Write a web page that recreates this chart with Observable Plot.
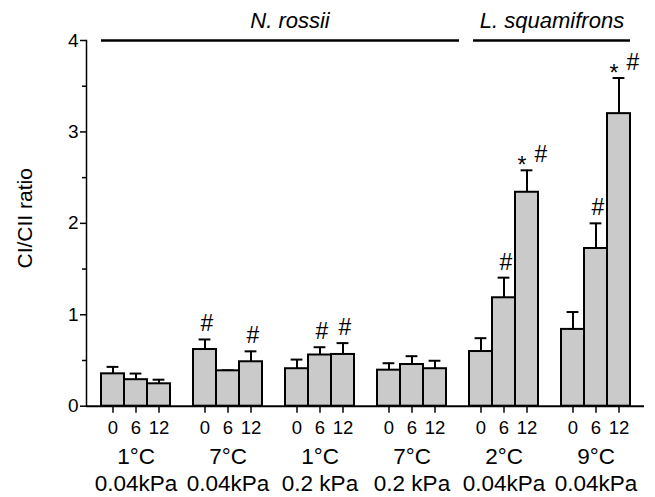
<!DOCTYPE html>
<html>
<head>
<meta charset="utf-8">
<script src="https://cdn.jsdelivr.net/npm/d3@7"></script>
<script src="https://cdn.jsdelivr.net/npm/@observablehq/plot@0.6"></script>
<style>
  html, body { margin: 0; padding: 0; background: #fff; }
  svg { display: block; }
</style>
</head>
<body>
<div id="chart"></div>
<script>
// ---- data ----
const groupTemps = ["1°C", "7°C", "1°C", "7°C", "2°C", "9°C"];
const groupPressures = ["0.04kPa", "0.04kPa", "0.2 kPa", "0.2 kPa", "0.04kPa", "0.04kPa"];
const doses = ["0", "6", "12"];
const means = [
  [0.354, 0.29, 0.245],
  [0.62, 0.387, 0.486],
  [0.41, 0.56, 0.566],
  [0.394, 0.456, 0.41],
  [0.598, 1.186, 2.34],
  [0.84, 1.725, 3.2]
];
const sems = [
  [0.076, 0.067, 0.045],
  [0.11, 0.005, 0.114],
  [0.10, 0.085, 0.124],
  [0.076, 0.091, 0.087],
  [0.146, 0.22, 0.24],
  [0.19, 0.275, 0.39]
];
const hashMarks = [[0,0,0],[1,0,1],[0,1,1],[0,0,0],[0,1,1],[0,1,1]];
const starMarks = [[0,0,0],[0,0,0],[0,0,0],[0,0,0],[0,0,1],[0,0,1]];
const species = ["N. rossii", "L. squamifrons"];
const yTicks = [0, 1, 2, 3, 4];
const yMinorTicks = [0.5, 1.5, 2.5, 3.5];

// ---- build tables ----
const keyOf = (g, d) => `${g}-${d}`;
const spacerOf = g => `s${g}`;
const domain = [];
groupTemps.forEach((_, g) => {
  doses.forEach((_, d) => domain.push(keyOf(g, d)));
  if (g < groupTemps.length - 1) domain.push(spacerOf(g));
});
const bars = [];
groupTemps.forEach((_, g) => doses.forEach((dose, d) => bars.push({
  key: keyOf(g, d), dose, mean: means[g][d], top: means[g][d] + sems[g][d],
  hash: hashMarks[g][d] === 1, star: starMarks[g][d] === 1
})));
const barKeys = bars.map(b => b.key);
const doseOf = Object.fromEntries(bars.map(b => [b.key, b.dose]));
const groupLabels = groupTemps.map((t, g) => ({key: keyOf(g, 1), temp: t, pressure: groupPressures[g]}));
const hashAlone = bars.filter(b => b.hash && !b.star);
const hashWithStar = bars.filter(b => b.hash && b.star);
const stars = bars.filter(b => b.star);
const font = "Liberation Sans, Arial, sans-serif";

const chart = Plot.plot({
  width: 655,
  height: 497,
  marginLeft: 86,
  marginRight: 11,
  marginTop: 40,
  marginBottom: 91.3,
  style: {fontFamily: font, color: "#000", background: "#fff", overflow: "visible"},
  x: {type: "band", domain, paddingInner: 0, paddingOuter: 0.5, label: null, axis: null},
  y: {domain: [0, 4], label: null, axis: null},
  marks: [
    // axes
    Plot.axisY({ticks: yTicks, tickSize: 6, tickPadding: 2, fontSize: 19, strokeWidth: 1.5, label: null, tickFormat: d3.format("d")}),
    Plot.axisY({ticks: yMinorTicks, tickSize: 4, strokeWidth: 1.5, label: null, tickFormat: () => ""}),
    Plot.frame({anchor: "left", strokeWidth: 1.5}),
    Plot.axisX({ticks: barKeys, tickFormat: k => doseOf[k], tickSize: 7, tickPadding: 8, fontSize: 18.5, strokeWidth: 1.5, label: null}),
    Plot.text(["CI/CII ratio"], {frameAnchor: "left", dx: -61, dy: -5, rotate: -90, fontSize: 21, textAnchor: "middle", lineAnchor: "middle"}),
    // error bars
    Plot.ruleX(bars, {x: "key", y1: "mean", y2: "top", strokeWidth: 2}),
    Plot.tickY(bars, {x: "key", y: "top", strokeWidth: 2, insetLeft: 5.6, insetRight: 5.6}),
    // bars
    Plot.barY(bars, {x: "key", y: "mean", fill: "#cacaca", stroke: "#000", strokeWidth: 2}),
    Plot.ruleY([0], {strokeWidth: 2}),
    // significance marks
    Plot.text(hashAlone, {x: "key", y: "top", text: () => "#", dx: 2, dy: -8, fontSize: 23, lineAnchor: "bottom"}),
    Plot.text(hashWithStar, {x: "key", y: "top", text: () => "#", dx: 14, dy: -8, fontSize: 23, lineAnchor: "bottom"}),
    Plot.text(stars, {x: "key", y: "top", text: () => "*", dx: -5, dy: 3, fontSize: 23, lineAnchor: "bottom"}),
    // group labels
    Plot.text(groupLabels, {x: "key", y: () => 0, text: "temp", dy: 42.3, fontSize: 22.5, lineAnchor: "top"}),
    Plot.text(groupLabels, {x: "key", y: () => 0, text: "pressure", dy: 69.3, fontSize: 22.5, lineAnchor: "top"}),
    // species headers
    Plot.ruleY([{x1: keyOf(0, 0), x2: spacerOf(3), y: 4}], {x1: "x1", x2: "x2", y: "y", strokeWidth: 2.5, insetRight: 10}),
    Plot.ruleY([{x1: keyOf(4, 0), x2: keyOf(5, 2), y: 4}], {x1: "x1", x2: "x2", y: "y", strokeWidth: 2.5, insetLeft: 4}),
    Plot.text([{x: keyOf(2, 0), y: 4, t: species[0]}], {x: "x", y: "y", text: "t", dx: -7, dy: -13, fontSize: 22, fontStyle: "italic", lineAnchor: "bottom"}),
    Plot.text([{x: spacerOf(4), y: 4, t: species[1]}], {x: "x", y: "y", text: "t", dx: 2, dy: -13, fontSize: 22, fontStyle: "italic", lineAnchor: "bottom"})
  ]
});
document.getElementById("chart").appendChild(chart);
</script>
</body>
</html>
